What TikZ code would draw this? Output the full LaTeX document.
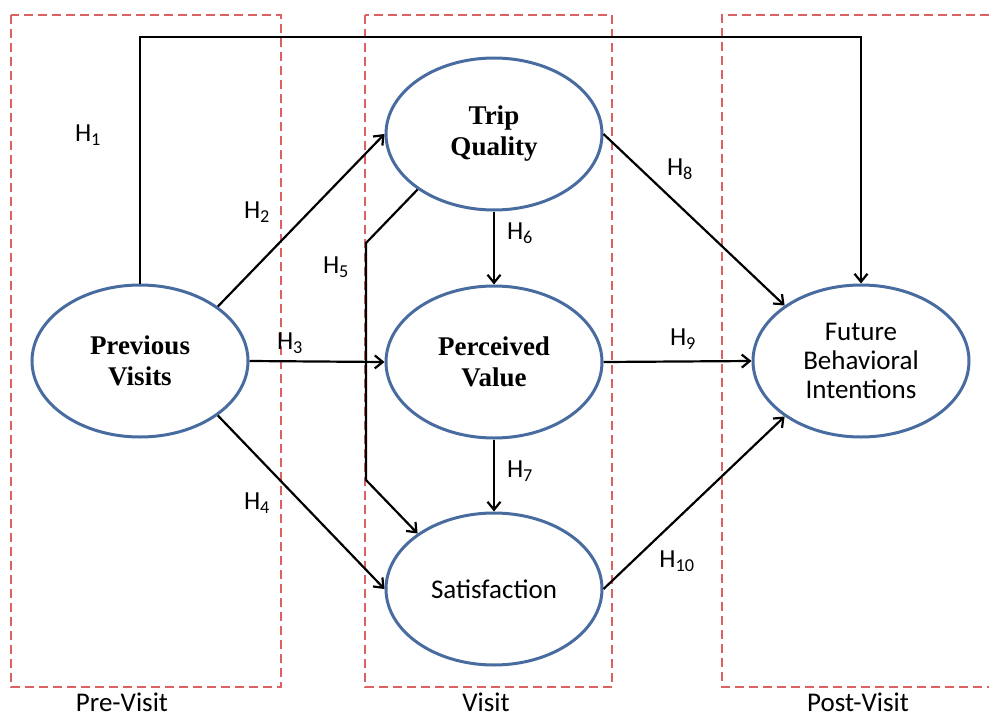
\documentclass[tikz,border=0pt]{standalone}
\usepackage{fontspec}
\setmainfont{Carlito}
\newfontfamily\capfont{Liberation Serif}
\usetikzlibrary{shapes.geometric,arrows.meta}

\definecolor{boxred}{RGB}{218,98,98}
\definecolor{ellblue}{RGB}{72,108,160}

\tikzset{
  zone/.style={draw=boxred,line width=2.2pt,dash pattern=on 9pt off 5pt},
  construct/.style={ellipse,draw=ellblue,line width=3pt,minimum width=216pt,minimum height=152pt,align=center,inner sep=0pt},
  serifname/.style={font=\capfont\bfseries\fontsize{27}{31}\selectfont},
  sansname/.style={font=\fontsize{27}{29}\selectfont},
  link/.style={line width=2.2pt,-{Straight Barb[length=8pt,width=13pt,line width=2.2pt]}},
  hyp/.style={font=\fontsize{26}{28}\selectfont},
  phase/.style={font=\fontsize{27}{30}\selectfont,anchor=base}
}

\begin{document}
\begin{tikzpicture}[x=1pt,y=-1pt]
\useasboundingbox (0,0) rectangle (989,718);

\draw[zone] (11,15) rectangle (281,687); %pre-visit
\draw[zone] (365,15) rectangle (612,687); %visit
\draw[zone] (989,15) -- (722,15) -- (722,687) -- (989,687); %post-visit, open at the right

\node[construct,serifname] (prev) at (140,361) {Previous\\Visits};
\node[construct,serifname] (trip) at (494,134) {Trip\\Quality};
\node[construct,serifname] (perc) at (494,362) {Perceived\\Value};
\node[construct,sansname] (sat) at (494,589) {Satisfaction};
\node[construct,sansname] (fbi) at (861,361) {Future\\Behavioral\\Intentions};

\coordinate (top) at (500,37);
\coordinate (bendA) at (366,243);
\coordinate (bendB) at (366,480);

\draw[link] (prev.north) |- (top) -| (fbi.north); %H1
\draw[link] (prev.35) -- (trip.west); %H2
\draw[link] (prev.east) -- (perc.west); %H3
\draw[link] (prev.-35) -- (sat.west); %H4
\draw[link] (trip.216) -- (bendA) -- (bendB) -- (sat.144); %H5
\draw[link] (trip.south) -- (perc.north); %H6
\draw[link] (perc.south) -- (sat.north); %H7
\draw[link] (trip.east) -- (fbi.144); %H8
\draw[link] (perc.east) -- (fbi.west); %H9
\draw[link] (sat.east) -- (fbi.216); %H10

\node[hyp] (h1) at (88,135) {H\textsubscript{1}};
\node[hyp] (h2) at (257,212) {H\textsubscript{2}};
\node[hyp] (h3) at (290,343) {H\textsubscript{3}};
\node[hyp] (h4) at (257,503) {H\textsubscript{4}};
\node[hyp] (h5) at (336,267) {H\textsubscript{5}};
\node[hyp] (h6) at (520,233) {H\textsubscript{6}};
\node[hyp] (h7) at (520,471) {H\textsubscript{7}};
\node[hyp] (h8) at (680,169) {H\textsubscript{8}};
\node[hyp] (h9) at (683,339) {H\textsubscript{9}};
\node[hyp] (h10) at (677,561) {H\textsubscript{10}};

\node[phase] (pre) at (122,711) {Pre-Visit};
\node[phase] (vis) at (486,711) {Visit};
\node[phase] (post) at (858,711) {Post-Visit};

\end{tikzpicture}
\end{document}
